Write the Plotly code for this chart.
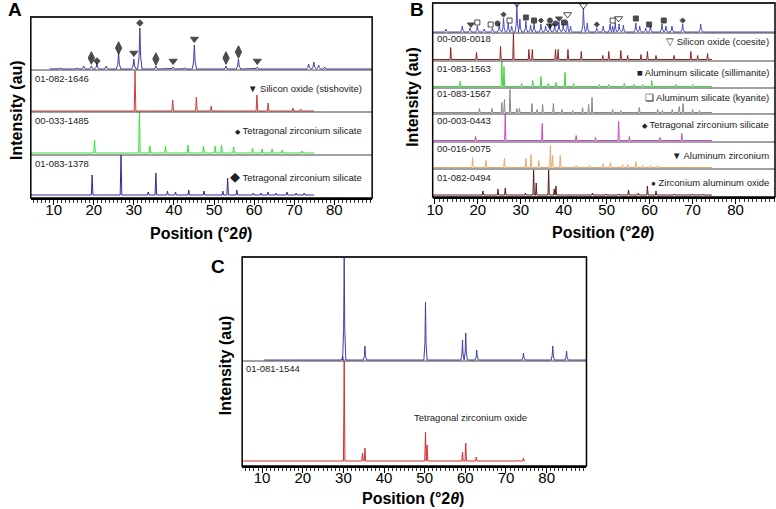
import plotly.graph_objects as go

W, H = 776, 509
FONT = "Arial, Liberation Sans, sans-serif"

# ---------------- panel A ----------------
A_SAMPLE_POS = [11.7, 15.9, 17.5, 19.4, 20.8, 23.1, 26.2, 30.0, 31.5, 35.5, 39.8, 42.7,
                45.1, 53.0, 56.1, 60.8, 73.6, 74.9, 76.1, 77.6]
A_SAMPLE_INT = [1, 1, 3, 3, 6, 3, 16, 10, 41, 3, 2, 1, 24, 3, 10, 2, 5, 7, 4, 2]
A_MARK_POS = [19.4, 20.8, 26.2, 30.0, 31.5, 35.5, 39.8, 45.1, 53.0, 56.1, 60.8]
A_MARK_Y = [11, 8, 21, 16, 46, 10, 8, 30, 11, 17, 8]
A_MARK_PHASE = ["zs_b", "zs_s", "zs_b", "sio2", "zs_s", "zs_b", "sio2", "sio2", "zs_b", "zs_b", "sio2"]

A_STI_POS = [30.3, 39.7, 45.6, 49.3, 60.7, 63.5, 69.7, 71.6]
A_STI_INT = [40, 11, 14, 5, 16, 8, 3, 2]
A_TZS_POS = [20.2, 31.4, 34.0, 37.9, 43.5, 47.4, 50.3, 51.9, 54.9, 59.6, 62.0, 64.5, 67.0, 72.0]
A_TZS_INT = [13, 41, 7, 7, 8, 7, 7, 8, 6, 5, 4, 4, 3, 2]
A_ZS_POS = [19.6, 26.8, 33.6, 35.5, 38.4, 40.4, 43.7, 47.5, 52.2, 53.4, 55.7, 59.8, 61.7,
            63.5, 65.5, 68.2, 70.5, 72.5]
A_ZS_INT = [20, 41, 3, 22, 4, 3, 5, 4, 4, 17, 5, 2, 2, 3, 2, 3, 2, 2]

# ---------------- panel B ----------------
B_SAMPLE_POS = [12.6, 16.4, 18.2, 19.9, 21.5, 23.4, 25.0, 26.0, 27.1, 27.9, 29.1, 29.8, 31.2,
                32.3, 33.1, 34.7, 35.8, 36.8, 37.9, 38.9, 39.9, 40.9, 41.6, 44.6, 45.5, 47.7,
                49.2, 50.8, 51.4, 52.0, 52.9, 53.9, 56.8, 57.7, 59.1, 60.2, 62.9, 63.8, 65.2,
                67.7, 71.9]
B_SAMPLE_INT = [3, 6, 4, 6, 3, 4, 8, 14, 9, 6, 28, 13, 11, 7, 9, 8, 6, 8, 8, 10, 8, 11, 6,
                24, 9, 4, 6, 8, 6, 9, 8, 7, 9, 6, 4, 6, 8, 6, 6, 8, 8]
B_MARK_POS = [18.4, 19.9, 23.0, 24.6, 26.0, 27.4, 29.1, 31.2, 33.1, 34.7, 36.8, 36.8, 38.1,
              38.9, 40.1, 40.9, 44.6, 47.7, 51.4, 52.8, 56.8, 59.9, 63.3, 67.7]
B_MARK_Y = [7.5, 9.5, 7.5, 8.5, 17.5, 11.5, 28.5, 14.5, 11.5, 11.5, 11.5, 6.5, 8.5, 13.5,
            9.5, 17.5, 26.5, 7.5, 11.5, 13.5, 13.5, 7.5, 11.5, 11.5]
B_MARK_PHASE = ["alzr", "kya", "kya", "zao", "tzs", "kya", "coe", "sil", "sil", "tzs", "zao",
                "alzr", "zao", "alzr", "sil", "coe", "coe", "tzs", "kya", "coe", "sil", "sil",
                "sil", "tzs"]

B_COE_POS = [13.7, 19.7, 25.3, 28.3, 31.9, 32.7, 38.1, 38.7, 41.0, 44.1, 49.1, 50.5, 53.3,
             54.9, 58.0, 59.5, 61.5, 65.7, 69.6, 71.2, 73.5]
B_COE_INT = [12, 7, 13, 27, 10, 10, 10, 10, 10, 8, 4, 8, 9, 4, 5, 8, 4, 4, 8, 4, 6]
B_SIL_POS = [15.9, 25.6, 26.1, 30.2, 32.8, 34.7, 36.4, 38.2, 40.3, 42.3, 48.3, 50.5, 54.1,
             56.4, 58.4, 60.5, 66.1, 70.0]
B_SIL_INT = [5, 26, 20, 3, 6, 10, 3, 4, 14, 3, 2, 2, 3, 2, 2, 6, 2, 2]
B_KYA_POS = [20.4, 23.3, 25.6, 26.2, 27.5, 29.1, 29.7, 32.6, 33.8, 35.1, 37.6, 39.6, 42.1,
             44.4, 45.8, 46.6, 51.4, 53.3, 57.6, 61.9, 63.0, 65.3, 66.9, 67.8, 70.0, 71.6]
B_KYA_INT = [4, 4, 10, 13, 23, 4, 4, 9, 3, 8, 9, 3, 2, 5, 8, 15, 3, 2, 5, 3, 2, 3, 6, 9, 3, 2]
B_TZS_POS = [19.5, 26.4, 35.0, 42.9, 47.4, 52.8, 55.3, 62.4, 67.5]
B_TZS_INT = [4, 27, 17, 5, 3, 19, 4, 3, 7]
B_ALZ_POS = [18.8, 21.9, 26.2, 31.2, 32.4, 34.2, 36.9, 37.4, 39.2, 42.9, 46.0, 49.2, 50.9,
             53.7, 54.9, 56.8, 58.4, 60.2, 61.9]
B_ALZ_INT = [10, 7, 9, 9, 13, 7, 22, 12, 12, 2, 2, 4, 5, 3, 3, 6, 2, 2, 2]
B_ZAO_POS = [21.2, 24.7, 26.4, 31.1, 33.0, 33.6, 36.5, 37.8, 38.2, 46.7, 49.8, 52.9, 55.1,
             57.4, 59.5, 61.5, 65.7, 70.0, 72.3]
B_ZAO_INT = [4, 6, 7, 2, 25, 12, 25, 6, 9, 2, 1, 1, 5, 2, 9, 4, 1, 1, 1]

# ---------------- panel C ----------------
C_SAMPLE_POS = [29.8, 30.2, 35.3, 50.2, 59.3, 60.1, 62.8, 74.3, 81.5, 84.9]
C_SAMPLE_INT = [4, 102, 14, 58, 20, 27, 10, 7, 14, 9]
C_TZO_POS = [30.2, 34.7, 35.3, 50.2, 50.6, 59.3, 60.1, 62.7, 73.1, 74.3]
C_TZO_INT = [100, 8, 13, 29, 16, 9, 18, 4, 1, 3]

TICKS = [10, 20, 30, 40, 50, 60, 70, 80]


def fx(p):
    return p / W


def fy(p):
    return 1 - p / H


def pattern(pos, inten, hw, start, end, shape="stick"):
    xs, ys = [start], [0]
    for p, h in sorted(zip(pos, inten)):
        if shape == "peak":
            xs += [p - hw, p - hw * 0.35, p, p + hw * 0.35, p + hw]
            ys += [0, h * 0.3, h, h * 0.3, 0]
        else:
            xs += [p - hw, p, p + hw]
            ys += [0, h, 0]
    xs.append(end)
    ys.append(0)
    return xs, ys


fig = go.Figure()
layout = dict(
    width=W, height=H, margin=dict(l=0, r=0, t=0, b=0),
    paper_bgcolor="white", plot_bgcolor="white", showlegend=False,
    font=dict(family=FONT, color="black"),
)

# x axes: (range, left px, right px, bottom y axis, label standoff)
x_specs = {
    "x": ([4.3, 89.45], 25, 369, "y4", -8),
    "x2": ([9.5, 89.2], 430, 775, "y11", -7),
    "x3": ([5.1, 89.8], 238, 585, "y13", -8),
}
for key, (rng, l, r, anchor, standoff) in x_specs.items():
    name = "xaxis" if key == "x" else "xaxis" + key[1:]
    layout[name] = dict(
        domain=[fx(l), fx(r)], range=rng, anchor=anchor,
        tickvals=TICKS, ticks="outside", ticklen=5, tickwidth=1.2, tickcolor="black",
        minor=dict(dtick=1, ticks="outside", ticklen=3, tickcolor="#333", tickwidth=1),
        tickfont=dict(size=15, family=FONT), showgrid=False, zeroline=False,
        showline=True, linecolor="black", linewidth=1.5, ticklabelstandoff=standoff,
    )

# y axes: (x axis, top px, bottom px, baseline offset px)
y_specs = [
    ("x", 17, 70, 1), ("x", 70, 112, 1), ("x", 112, 155, 2), ("x", 155, 198, 3),
    ("x2", 3, 33, 1), ("x2", 33, 61, 1.5), ("x2", 61, 88, 1.5), ("x2", 88, 114, 1.5),
    ("x2", 114, 142, 1.5), ("x2", 142, 169, 1.5), ("x2", 169, 197, 2),
    ("x3", 257, 361, 1), ("x3", 361, 466, 5),
]
for i, (xk, top, bot, off) in enumerate(y_specs, start=1):
    name = "yaxis" if i == 1 else f"yaxis{i}"
    layout[name] = dict(
        domain=[fy(bot), fy(top)], range=[-off, bot - top - off], anchor=xk,
        showticklabels=False, ticks="", showgrid=False, zeroline=False, showline=False,
    )


def add_pattern(pos, inten, xk, yi, color, hw, start, end, shape="stick", width=1):
    xs, ys = pattern(pos, inten, hw, start, end, shape)
    fig.add_trace(go.Scatter(
        x=xs, y=ys, mode="lines", xaxis=xk, yaxis="y" if yi == 1 else f"y{yi}",
        line=dict(color=color, width=width), hoverinfo="skip",
    ))


# A
add_pattern(A_SAMPLE_POS, A_SAMPLE_INT, "x", 1, "#3e3ea6", 0.55, 9.0, 89.45, "peak")
add_pattern(A_STI_POS, A_STI_INT, "x", 2, "#d23a3a", 0.2, 4.3, 75)
add_pattern(A_TZS_POS, A_TZS_INT, "x", 3, "#35e035", 0.2, 4.3, 75)
add_pattern(A_ZS_POS, A_ZS_INT, "x", 4, "#2e2e9e", 0.2, 4.3, 75)
# B
add_pattern(B_SAMPLE_POS, B_SAMPLE_INT, "x2", 5, "#4b4bc0", 0.42, 9.5, 89.2, "peak")
add_pattern(B_COE_POS, B_COE_INT, "x2", 6, "#8c2424", 0.15, 9.5, 74.5)
add_pattern(B_SIL_POS, B_SIL_INT, "x2", 7, "#3ed43e", 0.15, 9.5, 74.5)
add_pattern(B_KYA_POS, B_KYA_INT, "x2", 8, "#8a8a8a", 0.15, 9.5, 74.5)
add_pattern(B_TZS_POS, B_TZS_INT, "x2", 9, "#c848c8", 0.15, 9.5, 74.5)
add_pattern(B_ALZ_POS, B_ALZ_INT, "x2", 10, "#e8a868", 0.15, 9.5, 74.5)
add_pattern(B_ZAO_POS, B_ZAO_INT, "x2", 11, "#5c1c1c", 0.15, 9.5, 74.5)
# C
add_pattern(C_SAMPLE_POS, C_SAMPLE_INT, "x3", 12, "#3e3ea6", 0.4, 10.5, 89.8, "peak")
add_pattern(C_TZO_POS, C_TZO_INT, "x3", 13, "#d42e2e", 0.18, 5.1, 74.6)

# phase markers above sample peaks
SYMBOLS = {
    "zs_b": ("diamond-tall", 9), "zs_s": ("diamond", 5), "sio2": ("triangle-down", 7),
    "alzr": ("triangle-down", 6), "kya": ("square-open", 5), "zao": ("circle", 5),
    "tzs": ("diamond", 4), "coe": ("triangle-down-open", 7), "sil": ("square", 5),
}
for pos, ys, phases, xk, yk in [
    (A_MARK_POS, A_MARK_Y, A_MARK_PHASE, "x", "y"),
    (B_MARK_POS, B_MARK_Y, B_MARK_PHASE, "x2", "y5"),
]:
    fig.add_trace(go.Scatter(
        x=pos, y=ys, mode="markers", xaxis=xk, yaxis=yk, hoverinfo="skip",
        marker=dict(
            symbol=[SYMBOLS[p][0] for p in phases],
            size=[SYMBOLS[p][1] for p in phases],
            color="black", line=dict(color="black", width=1),
        ),
    ))

shapes = []
# dividers
for xk, top, bot, off in y_specs:
    l, r = x_specs[xk][1], x_specs[xk][2]
    shapes.append(dict(type="line", xref="paper", yref="paper", x0=fx(l), x1=fx(r),
                       y0=fy(top), y1=fy(top), line=dict(color="#444", width=1.2)))
# panel boxes
for l, t, r, b in [(25, 17, 369, 198), (430, 3, 775, 197), (238, 257, 585, 466)]:
    shapes.append(dict(type="rect", xref="paper", yref="paper", x0=fx(l), x1=fx(r),
                       y0=fy(b), y1=fy(t), line=dict(color="black", width=1.5)))
layout["shapes"] = shapes

ann = []


def text(x, y, s, size=9.5, xanchor="left", color="#222", **kw):
    ann.append(dict(x=fx(x), y=fy(y), xref="paper", yref="paper", text=s, showarrow=False,
                    xanchor=xanchor, yanchor="middle", font=dict(size=size, color=color,
                                                                 family=FONT), **kw))


# card labels
for x, y, s in [(27, 78, "01-082-1646"), (27, 120, "00-033-1485"), (27, 163, "01-083-1378"),
                (432, 39, "00-008-0018"), (432, 68, "01-083-1563"), (432, 94, "01-083-1567"),
                (432, 120, "00-003-0443"), (432, 148, "00-016-0075"), (432, 177, "01-082-0494"),
                (240, 368, "01-081-1544")]:
    text(x, y, s, size=9.5)

small = '<span style="font-size:7px">◆</span>'
for x, y, s in [
    (361, 88, "▼ Silicon oxide (stishovite)"),
    (361, 131, small + " Tetragonal zirconium silicate"),
    (361, 176, '<span style="font-size:13px">◆</span> Tetragonal zirconium silicate'),
    (771, 42, "▽ Silicon oxide (coesite)"),
    (771, 72, "■ Aluminum silicate (sillimanite)"),
    (771, 98, "❏ Aluminum silicate (kyanite)"),
    (771, 124, small + " Tetragonal zirconium silicate"),
    (771, 155, "▼ Aluminum zirconium"),
    (771, 182, '<span style="font-size:8px">●</span> Zirconium aluminum oxide'),
]:
    text(x, y, s, size=9.5, xanchor="right")

text(468, 417, "Tetragonal zirconium oxide", size=9.5, xanchor="center")

# axis titles and panel letters
for x, y in [(197, 234), (602, 233), (410, 498)]:
    text(x, y, "<b>Position (°2<i>θ</i>)</b>", size=16, xanchor="center", color="black")
for x, y in [(10, 110), (409, 97), (221, 365)]:
    text(x, y, "<b>Intensity (au)</b>", size=16, xanchor="center", color="black",
         textangle=-90)
for x, y, s in [(9, 10, "A"), (414, 9, "B"), (214, 266, "C")]:
    text(x, y, f"<b>{s}</b>", size=19, xanchor="center", color="black")

layout["annotations"] = ann
fig.update_layout(**layout)
fig.write_html("out.html", config={"displayModeBar": False},
               post_script="document.body.style.margin='0px';")
